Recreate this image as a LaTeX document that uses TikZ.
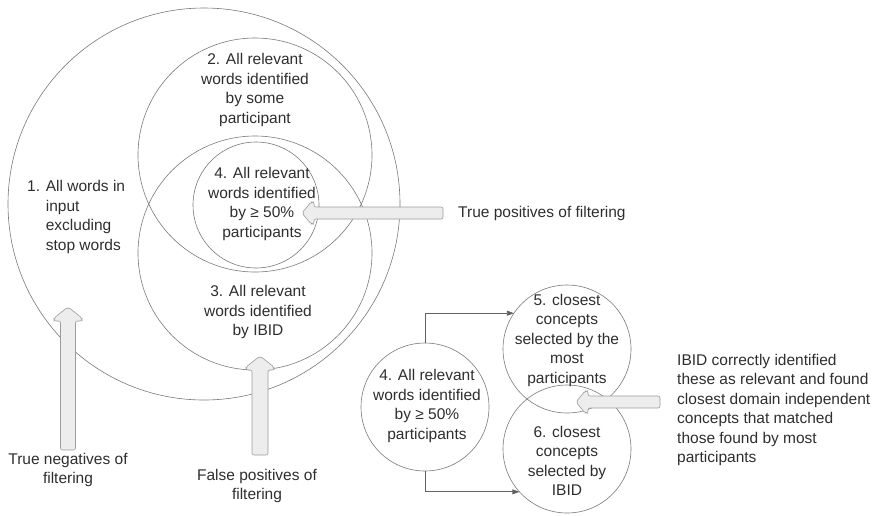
\documentclass[tikz,border=0pt]{standalone}
\usepackage{fontspec}
\setmainfont{Liberation Sans}
\usetikzlibrary{arrows.meta}
\definecolor{ringgray}{HTML}{7A7A7A}
\definecolor{textgray}{HTML}{2E2E2E}
\definecolor{blockfill}{HTML}{EDEDED}
\definecolor{blockline}{HTML}{9C9C9C}
\begin{document}
\begin{tikzpicture}[x=1pt,y=-1pt,
  ring/.style={circle, draw=ringgray, line width=0.6pt, inner sep=0pt, outer sep=0pt},
  lbl/.style={text=textgray, align=center, font=\fontsize{15.5}{19.5}\selectfont, inner sep=0pt},
  blockarrow/.style={fill=blockfill, draw=blockline, line width=0.6pt, rounded corners=2pt},
  link/.style={draw=ringgray!80!black, line width=0.7pt, -{Triangle[length=7pt,width=5pt]}}]
\useasboundingbox (0,0) rectangle (880,515);

% word sets
\node[ring, minimum size=392pt] (all)  at (204,204) {};
\node[ring, minimum size=234pt] (some) at (255,155) {};
\node[ring, minimum size=234pt] (ibid) at (255,253) {};
\node[ring, minimum size=126pt] (half) at (256,205) {};

\node[lbl, anchor=west] (allt) at (27,217)
  {\begin{tabular}{@{}l@{ }l@{}}1.& All words in\\ & input\\ & excluding\\ & stop words\end{tabular}};
\node[lbl] (somet) at (255,90) {2. All relevant\\words identified\\by some\\participant};
\node[lbl] (halft) at (262,204) {4. All relevant\\words identified\\by ≥ 50\%\\participants};
\node[lbl] (ibidt) at (258,312) {3. All relevant\\words identified\\by IBID};

% concept selection
\node[ring, minimum size=128pt] (half2) at (425,407) {};
\node[ring, minimum size=128pt] (most)  at (567,349) {};
\node[ring, minimum size=128pt] (sel)   at (567,449) {};

\node[lbl] (half2t) at (427,406) {4. All relevant\\words identified\\by ≥ 50\%\\participants};
\node[lbl] (mostt) at (567,340) {5. closest\\concepts\\selected by the\\most\\participants};
\node[lbl] (selt) at (567,461) {6. closest\\concepts\\selected by\\IBID};

\draw[link] (half2.north) |- (most.146);
\draw[link] (half2.south) |- (sel.222);

% block arrows
\draw[blockarrow] (60.5,450) -- (60.5,321) -- (54,321) -- (54,318) -- (68,307) -- (82,318) -- (82,321) -- (75.5,321) -- (75.5,450) -- cycle;
\draw[blockarrow] (252,455) -- (252,370) -- (246,370) -- (246,367) -- (260,356) -- (274,367) -- (274,370) -- (268,370) -- (268,455) -- cycle;
\draw[blockarrow] (443,207) -- (314,207) -- (314,202) -- (311,202) -- (302,213) -- (311,224) -- (314,224) -- (314,219) -- (443,219) -- cycle;
\draw[blockarrow] (660,396) -- (588,396) -- (588,391) -- (585,391) -- (576,402) -- (585,413) -- (588,413) -- (588,408) -- (660,408) -- cycle;

% captions
\node[lbl, anchor=west] (tp) at (458,213) {True positives of filtering};
\node[lbl] (tn) at (68,470) {True negatives of\\filtering};
\node[lbl] (fp) at (257,486) {False positives of\\filtering};
\node[lbl, align=left, anchor=west] (note) at (677,410)
  {IBID correctly identified\\these as relevant and found\\closest domain independent\\concepts that matched\\those found by most\\participants};
\end{tikzpicture}
\end{document}
